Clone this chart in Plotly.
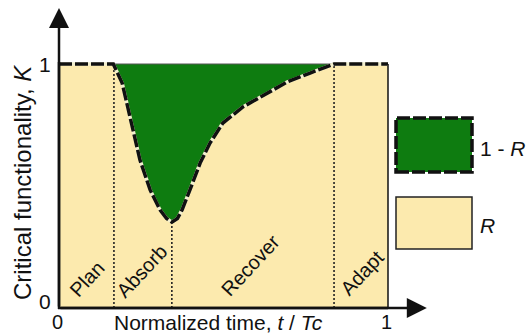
import plotly.graph_objects as go

# ---- data ----
t_curve = [0, 0.165, 0.192, 0.222, 0.246, 0.277, 0.307, 0.327, 0.343, 0.360, 0.374,
           0.398, 0.429, 0.459, 0.498, 0.559, 0.632, 0.693, 0.763, 0.836, 1.0]
K_curve = [1, 1, 0.922, 0.742, 0.607, 0.484, 0.402, 0.367, 0.352, 0.367, 0.402,
           0.484, 0.594, 0.676, 0.758, 0.824, 0.881, 0.926, 0.963, 1.0, 1.0]
phase_bounds = [0.167, 0.343, 0.836]
phase_names = ["Plan", "Absorb", "Recover", "Adapt"]
phase_label_t = [0.085, 0.252, 0.583, 0.921]
phase_label_K = [0.119, 0.152, 0.176, 0.143]
x_ticks = [0, 1]
y_ticks = [0, 1]

GREEN = "#0E7C10"
YELLOW = "#FCEAAE"
FONT = "Arial, Liberation Sans, sans-serif"

W, H = 529, 334
# screen pixel positions of the axis frame
X0, X1 = 59, 388      # t=0, t=1
Y0, Y1 = 308, 64      # K=0, K=1
L, R, T, B = 30, 80, 0, 10
sx = X1 - X0
sy = Y0 - Y1
xr = [(L - X0) / sx, (W - R - X0) / sx]
yr = [(Y0 - (H - B)) / sy, (Y0 - T) / sy]
pw, ph = W - L - R, H - T - B


def px(xs):
    return (xs - L) / pw


def py(ys):
    return (H - B - ys) / ph


def tx(t):
    return px(X0 + t * (X1 - X0))


def ky(k):
    return py(Y0 - k * (Y0 - Y1))


fig = go.Figure()

# yellow R region
fig.add_trace(go.Scatter(x=[0, 1, 1, 0, 0], y=[0, 0, 1, 1, 0], fill="toself",
                         fillcolor=YELLOW, line=dict(width=0), mode="lines",
                         hoverinfo="skip"))
# green 1-R region
i0, i1 = 1, len(t_curve) - 2
gx = t_curve[i0:i1 + 1] + [t_curve[i0]]
gy = K_curve[i0:i1 + 1] + [K_curve[i0]]
fig.add_trace(go.Scatter(x=gx, y=gy, fill="toself", fillcolor=GREEN,
                         line=dict(width=0), mode="lines", hoverinfo="skip"))

# top thin border
fig.add_trace(go.Scatter(x=[0, 1], y=[1, 1], mode="lines",
                         line=dict(color="#555555", width=1), hoverinfo="skip"))
# right border
fig.add_trace(go.Scatter(x=[1, 1], y=[0, 1], mode="lines",
                         line=dict(color="#111111", width=1.5), hoverinfo="skip"))

# dotted phase boundaries
kmin = min(K_curve)
for b in phase_bounds:
    top = kmin if abs(b - t_curve[K_curve.index(kmin)]) < 0.01 else 1.0
    fig.add_trace(go.Scatter(x=[b, b], y=[0, top], mode="lines",
                             line=dict(color="#222222", width=1.6, dash="2px,2px"),
                             hoverinfo="skip"))

# dashed curve (light underlay + black dashes)
fig.add_trace(go.Scatter(x=t_curve, y=K_curve, mode="lines",
                         line=dict(color="#F2EFCF", width=3.5), hoverinfo="skip"))
fig.add_trace(go.Scatter(x=t_curve, y=K_curve, mode="lines",
                         line=dict(color="#111111", width=3.5, dash="13px,3px"),
                         hoverinfo="skip"))

annotations = []
# axes with arrows
annotations.append(dict(x=0, y=1.23, ax=0, ay=0, xref="x", yref="y", axref="x", ayref="y",
                        text="", showarrow=True, arrowhead=2, arrowsize=1.6,
                        arrowwidth=2.5, arrowcolor="#111111"))
annotations.append(dict(x=1.118, y=0, ax=0, ay=0, xref="x", yref="y", axref="x", ayref="y",
                        text="", showarrow=True, arrowhead=2, arrowsize=1.6,
                        arrowwidth=2.5, arrowcolor="#111111"))


def label(xp, yp, text, size, angle=0, xanchor="center"):
    return dict(x=xp, y=yp, xref="paper", yref="paper", text=text, showarrow=False,
                xanchor=xanchor, yanchor="middle", textangle=angle,
                font=dict(size=size, color="#111111", family=FONT))


# tick labels
for v in x_ticks:
    annotations.append(label(px(X0 + v * (X1 - X0) - 2), py(322), str(v), 20))
for v in y_ticks:
    annotations.append(label(px(45), py(Y0 - v * (Y0 - Y1) - (7 if v == 0 else 0)),
                             str(v), 21))

# axis titles
annotations.append(label(px(218), py(322), "Normalized time, <i>t</i> / <i>Tc</i>", 21))
annotations.append(label(px(22), py(183), "Critical functionality, <i>K</i>", 24, angle=-90))

# phase labels
for name, t, k in zip(phase_names, phase_label_t, phase_label_K):
    annotations.append(label(tx(t), ky(k), name, 20, angle=-47))

# legend texts
annotations.append(label(px(478), py(148), "1 - <i>R</i>", 21, xanchor="left"))
annotations.append(label(px(478), py(225), "<i>R</i>", 21, xanchor="left"))

shapes = [
    # left axis and bottom axis lines
    dict(type="line", xref="paper", yref="paper", x0=px(X0), x1=px(X0), y0=py(Y0 + 1),
         y1=py(Y1 - 2), line=dict(color="#111111", width=2.5)),
    dict(type="line", xref="paper", yref="paper", x0=px(X0 - 1), x1=px(X1), y0=py(Y0),
         y1=py(Y0), line=dict(color="#111111", width=2.5)),
    # legend boxes
    dict(type="rect", xref="paper", yref="paper", x0=px(396), x1=px(472), y0=py(172),
         y1=py(118), fillcolor=GREEN, line=dict(color="#111111", width=3.5, dash="13px,3px")),
    dict(type="rect", xref="paper", yref="paper", x0=px(396), x1=px(472), y0=py(249),
         y1=py(197), fillcolor=YELLOW, line=dict(color="#222222", width=1.5)),
]

fig.update_layout(
    width=W, height=H,
    margin=dict(l=L, r=R, t=T, b=B, pad=0),
    paper_bgcolor="white", plot_bgcolor="white",
    showlegend=False,
    xaxis=dict(range=xr, visible=False, fixedrange=True),
    yaxis=dict(range=yr, visible=False, fixedrange=True),
    annotations=annotations,
    shapes=shapes,
)

fig.write_html(
    "out.html",
    config={"displayModeBar": False},
    post_script="document.body.style.margin='0';"
                "document.documentElement.style.overflow='hidden';"
                "document.body.style.overflow='hidden';",
)
